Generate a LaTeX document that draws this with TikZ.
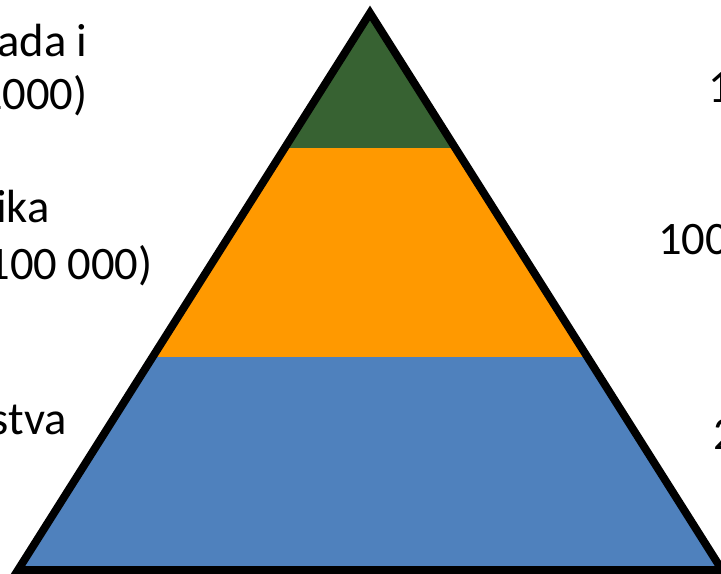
\documentclass[tikz,border=0pt]{standalone}
\usepackage{fontspec}
\setmainfont{Carlito}
\usepackage{tikz}
\usetikzlibrary{calc}
\usepackage{xcolor}
\definecolor{topgreen}{RGB}{55,98,50}
\definecolor{midorange}{RGB}{255,153,0}
\definecolor{lowblue}{RGB}{79,129,189}

\begin{document}
\begin{tikzpicture}[x=0.02cm, y=-0.02cm,
    lbl/.style={font=\fontsize{26.5}{31}\selectfont, inner sep=0pt}]
    \useasboundingbox (0,0) rectangle (721,574);
    \clip (0,0) rectangle (721,574);
    \coordinate (apex) at (370,13);
    \coordinate (bl) at (18,570);
    \coordinate (br) at (722,570);
    \coordinate (gl) at ($(apex)!0.2424!(bl)$);
    \coordinate (gr) at ($(apex)!0.2424!(br)$);
    \coordinate (ol) at ($(apex)!0.6176!(bl)$);
    \coordinate (or) at ($(apex)!0.6176!(br)$);
    \fill[topgreen] (apex) -- (gl) -- (gr) -- cycle;
    \fill[midorange] (gl) -- (ol) -- (or) -- (gr) -- cycle;
    \fill[lowblue] (ol) -- (bl) -- (br) -- (or) -- cycle;
    \draw[line width=4.5pt, line join=miter] (apex) -- (bl) -- (br) -- cycle;
    % left labels
    \node[lbl, anchor=base east] (top1) at (88,57) {ada i};
    \node[lbl, anchor=base east] (top2) at (88,110) {1000)};
    \node[lbl, anchor=base east] (mid1) at (50,223) {ika};
    \node[lbl, anchor=base east] (mid2) at (153,280) {100 000)};
    \node[lbl, anchor=base east] (low1) at (67,435) {stva};
    % right labels
    \node[lbl, anchor=base west] (topr) at (708,103) {1};
    \node[lbl, anchor=base west] (midr) at (658,255) {100};
    \node[lbl, anchor=base west] (lowr) at (713,450) {2};
\end{tikzpicture}
\end{document}
